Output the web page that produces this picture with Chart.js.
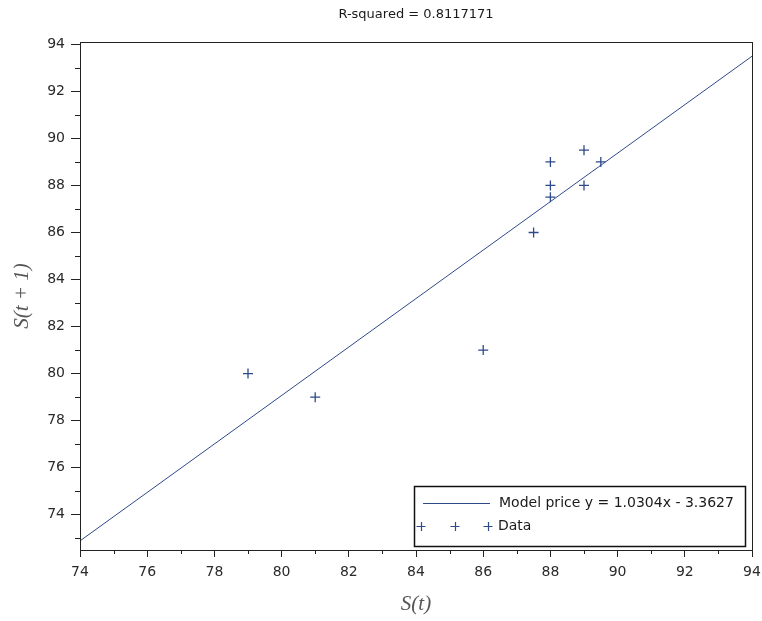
<!DOCTYPE html>
<html>
<head>
<meta charset="utf-8">
<script src="https://cdn.jsdelivr.net/npm/chart.js@4.4.1/dist/chart.umd.min.js"></script>
<style>
  html, body { margin: 0; padding: 0; background: #ffffff; }
  #wrap { width: 762px; height: 621px; }
</style>
</head>
<body>
<div id="wrap"><canvas id="c" width="762" height="621"></canvas></div>
<script>
// Observed prices: S(t) against the next period S(t+1)
const stValues  = [79, 81, 86, 87.5, 88, 88, 88, 89, 89, 89.5];
const st1Values = [80, 79, 81, 86, 87.5, 88, 89, 89.5, 88, 89];

// Fitted linear model
const slope = 1.0304;
const intercept = -3.3627;
const rSquared = '0.8117171';

// Axis ranges and labelled ticks
const xRange = [74, 94];
const yRange = [72.5, 94.1];
const xTicks = [74, 76, 78, 80, 82, 84, 86, 88, 90, 92, 94];
const yTicks = [74, 76, 78, 80, 82, 84, 86, 88, 90, 92, 94];

const seriesColor = '#2d4a8a';
const axisColor = '#222222';
const labelColor = '#2a2a2a';

const scatterPoints = stValues.map((x, i) => ({ x: x, y: st1Values[i] }));
const modelPoints = xRange.map(x => ({ x: x, y: slope * x + intercept }));

const modelLabel = 'Model price y = ' + slope.toFixed(4) + 'x - ' + Math.abs(intercept).toFixed(4);

// Frame, minor ticks, title, axis titles and the boxed legend
const decorations = {
  id: 'decorations',
  afterDraw(chart) {
    const ctx = chart.ctx;
    const a = chart.chartArea;
    const xs = chart.scales.x, ys = chart.scales.y;
    ctx.save();
    // plot frame
    ctx.strokeStyle = axisColor;
    ctx.lineWidth = 1;
    ctx.strokeRect(Math.round(a.left) + 0.5, Math.round(a.top) + 0.5,
                   Math.round(a.right - a.left), Math.round(a.bottom - a.top));
    // minor ticks at the odd values
    ctx.beginPath();
    for (let v = Math.ceil(xs.min); v <= xs.max; v++) {
      if (xTicks.includes(v)) continue;
      const px = Math.round(xs.getPixelForValue(v)) + 0.5;
      ctx.moveTo(px, a.bottom);
      ctx.lineTo(px, a.bottom + 4);
    }
    for (let v = Math.ceil(ys.min); v <= ys.max; v++) {
      if (yTicks.includes(v)) continue;
      const py = Math.round(ys.getPixelForValue(v)) + 0.5;
      ctx.moveTo(a.left, py);
      ctx.lineTo(a.left - 5, py);
    }
    ctx.stroke();

    // title
    ctx.fillStyle = '#1a1a1a';
    ctx.font = '13px "DejaVu Sans"';
    ctx.textAlign = 'center';
    ctx.textBaseline = 'middle';
    ctx.fillText('R-squared = ' + rSquared, (a.left + a.right) / 2, 15);

    // axis titles
    ctx.fillStyle = '#555';
    ctx.font = 'italic 21px "Liberation Serif"';
    ctx.fillText('S(t)', (a.left + a.right) / 2, 604);
    ctx.save();
    ctx.translate(22, (a.top + a.bottom) / 2);
    ctx.rotate(-Math.PI / 2);
    ctx.fillText('S(t + 1)', 0, 0);
    ctx.restore();

    // legend box
    const lx = 414, ly = 486, lw = 331, lh = 60;
    ctx.fillStyle = '#ffffff';
    ctx.fillRect(lx, ly, lw, lh);
    ctx.strokeStyle = '#111';
    ctx.lineWidth = 1.5;
    ctx.strokeRect(lx + 0.5, ly + 0.5, lw, lh);

    const ds = chart.data.datasets;
    // row 1: model line sample
    ctx.strokeStyle = ds[0].borderColor;
    ctx.lineWidth = 1;
    ctx.beginPath();
    ctx.moveTo(423, 503.5);
    ctx.lineTo(490, 503.5);
    ctx.stroke();
    ctx.fillStyle = '#1a1a1a';
    ctx.font = '14px "DejaVu Sans"';
    ctx.textAlign = 'left';
    ctx.fillText(ds[0].label, 499, 503);
    // row 2: three markers
    ctx.strokeStyle = ds[1].borderColor;
    ctx.lineWidth = 1.2;
    ctx.beginPath();
    [421, 455, 488].forEach(cx => {
      ctx.moveTo(cx - 4.5, 526.5); ctx.lineTo(cx + 4.5, 526.5);
      ctx.moveTo(cx + 0.5, 522); ctx.lineTo(cx + 0.5, 531);
    });
    ctx.stroke();
    ctx.fillText(ds[1].label, 498, 526);
    ctx.restore();
  }
};

new Chart(document.getElementById('c'), {
  type: 'scatter',
  data: {
    datasets: [
      {
        type: 'line',
        label: modelLabel,
        data: modelPoints,
        borderColor: seriesColor,
        borderWidth: 1,
        pointRadius: 0,
        fill: false,
        tension: 0
      },
      {
        label: 'Data',
        data: scatterPoints,
        pointStyle: 'cross',
        pointRadius: 5,
        pointBorderWidth: 1.3,
        borderColor: seriesColor,
        backgroundColor: seriesColor
      }
    ]
  },
  options: {
    responsive: false,
    animation: false,
    devicePixelRatio: 1,
    layout: { padding: { top: 42, right: 10, left: 0, bottom: 0 } },
    plugins: {
      legend: { display: false },
      title: { display: false },
      tooltip: { enabled: false }
    },
    scales: {
      x: {
        type: 'linear',
        min: xRange[0],
        max: xRange[1],
        afterBuildTicks: s => { s.ticks = xTicks.map(v => ({ value: v })); },
        afterFit: s => { s.height = 71; s.paddingLeft = 0; s.paddingRight = 0; },
        grid: { drawOnChartArea: false, drawTicks: true, tickLength: 7, color: axisColor },
        border: { color: axisColor, width: 1 },
        ticks: { color: labelColor, font: { family: 'DejaVu Sans', size: 14 }, padding: 7, maxRotation: 0 }
      },
      y: {
        type: 'linear',
        min: yRange[0],
        max: yRange[1],
        afterBuildTicks: s => { s.ticks = yTicks.map(v => ({ value: v })); },
        afterFit: s => { s.width = 80; s.paddingTop = 0; s.paddingBottom = 0; },
        grid: { drawOnChartArea: false, drawTicks: true, tickLength: 9, color: axisColor },
        border: { color: axisColor, width: 1 },
        ticks: { color: labelColor, font: { family: 'DejaVu Sans', size: 14 }, padding: 6 }
      }
    }
  },
  plugins: [decorations]
});
</script>
</body>
</html>
